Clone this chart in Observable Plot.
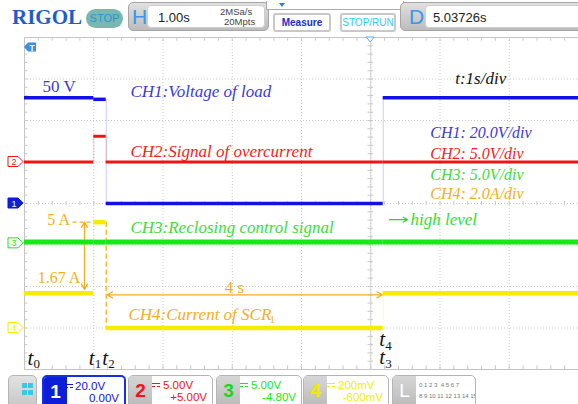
<!DOCTYPE html>
<html><head><meta charset="utf-8">
<script src="https://cdn.jsdelivr.net/npm/d3@7"></script>
<script src="https://cdn.jsdelivr.net/npm/@observablehq/plot@0.6"></script>
<style>
body{margin:0;width:578px;height:404px;overflow:hidden;background:#fff;position:relative;font-family:"Liberation Sans",Arial,sans-serif}
.a{position:absolute;white-space:nowrap}
.pnl{position:absolute;top:2px;height:29px;background:linear-gradient(#e0e0e0,#bcbcbc);border:1px solid #a5a5a5;border-radius:5px;box-sizing:border-box}
.inr{position:absolute;top:5px;height:23px;background:#fff;border:1px solid #cfcfcf;border-radius:4px;box-sizing:border-box}
.btn{position:absolute;top:13px;height:19px;background:#fff;border:2px solid #c8c8c8;border-radius:3px;box-sizing:border-box;font-size:10px;line-height:15px;text-align:center}
.fb{position:absolute;top:375px;height:34px;border:1px solid #b5b5b5;border-radius:5px;box-sizing:border-box;background:#fff;overflow:hidden}
.fl{position:absolute;left:0;top:0;bottom:0;width:23px;background:linear-gradient(#d6d6d6,#b9b9b9);font:bold 19px "Liberation Sans";text-align:center;line-height:30px}
.sym{position:absolute;width:8px;height:2px;border-top:1.5px solid;border-bottom:1.5px dashed}
.v{position:absolute;font-size:11.5px;line-height:11px}
#chart{position:absolute;left:0;top:36px}
</style></head><body>
<div id="hdr">
  <div class="a" style="left:12px;top:5px;font:bold 21px 'Liberation Serif';color:#1e5ccc">RIGOL</div>
  <div class="a" style="left:86px;top:9px;width:37px;height:19px;border-radius:10px;background:#7ab7b1;color:#1f98dc;font-size:11px;line-height:19px;text-align:center">STOP</div>
  <div class="pnl" style="left:128px;width:141px"></div>
  <div class="a" style="left:132px;top:5px;font-size:21px;color:#3a97ea">H</div>
  <div class="inr" style="left:147px;width:118px"></div>
  <div class="a" style="left:158px;top:10px;font-size:13px;color:#222">1.00s</div>
  <div class="a" style="left:220px;top:6px;font-size:9.5px;color:#444">2MSa/s</div>
  <div class="a" style="left:224px;top:16px;font-size:9.5px;color:#444">20Mpts</div>
  <div class="a" style="left:266px;top:1px;width:138px;height:9px;border:1px solid #aaa;border-top:none;box-sizing:border-box;background:#fff"></div>
  <div class="a" style="left:279px;top:3px;width:0;height:0;border-left:3px solid transparent;border-right:3px solid transparent;border-top:4px solid #2a7ee0"></div>
  <div class="btn" style="left:273px;width:58px;color:#1a2fc8;font-weight:bold">Measure</div>
  <div class="btn" style="left:340px;width:56px;color:#2ccdf0">STOP/RUN</div>
  <div class="pnl" style="left:400px;width:185px"></div>
  <div class="a" style="left:409px;top:5px;font-size:21px;color:#3a97ea">D</div>
  <div class="inr" style="left:425px;width:160px"></div>
  <div class="a" style="left:433px;top:10px;font-size:13px;color:#222">5.03726s</div>
</div>
<div id="chart"></div>
<div id="ftr"></div>
<script>
const edges = [0, 1.0, 1.18, 5.18, 8];          // s (1 s/div): t0, t1, t2, t3(=t4), right edge
const ch1Volts = [51, 50.2, 0, 51];              // CH1 voltage of load (V)
const ch2Volts = [0, 3.1, 0, 0];                 // CH2 over-current signal (V)
const ch3Volts = [0.15, 0.15, 0.15, 0.15];       // CH3 reclosing control (V)
const ch4Amps  = [1.67, 5.1, 0, 1.67];           // CH4 SCR1 current (A)
const unitsPerDiv = [20, 5, 5, 2];               // V/div, V/div, V/div, A/div
const footerScale = ["20.0V", "5.00V", "5.00V", "200mV"];
const footerOffset = ["0.00V", "+5.00V", "-4.80V", "-600mV"];
const offsetVolts = [0, 5, -4.8, -0.6];
const footerVoltsPerDiv = [20, 5, 5, 0.2];
const chLabels = ["CH1:Voltage of load", "CH2:Signal of overcurrent", "CH3:Reclosing control signal", "CH4:Current of SCR"];
const scaleLabels = ["CH1: 20.0V/div", "CH2: 5.0V/div", "CH3: 5.0V/div", "CH4: 2.0A/div"];
const timeLabel = "t:1s/div";
const levelLabels = ["50 V", "5 A", "1.67 A", "4 s", "high level"];
const tNames = ["0", "1", "2", "3", "4"];

// ---- styles ----
const serif = "'Liberation Serif','Times New Roman',serif";
const traceColors = ["#1212e8", "#f01414", "#14ea14", "#f6ec00"];
const traceWidths = [3.5, 3, 5, 4.5];
const textColors = ["#3b3bd4", "#f41c1c", "#3ddc3d", "#f5ae22"];
const ORANGE = "#f5ae22";

const series = [ch1Volts, ch2Volts, ch3Volts, ch4Amps];
const offsetDiv = offsetVolts.map((o, i) => o / footerVoltsPerDiv[i]);
const toDiv = (c, v) => v / unitsPerDiv[c] + offsetDiv[c];

const segs = [], edgesV = [];
series.forEach((vals, c) => {
  vals.forEach((v, i) => segs.push({c, x1: edges[i], x2: edges[i + 1], y: toDiv(c, v)}));
  for (let i = 1; i < vals.length; i++)
    if (vals[i] !== vals[i - 1]) edgesV.push({c, x: edges[i], y1: toDiv(c, vals[i - 1]), y2: toDiv(c, vals[i])});
});

const majorX = d3.range(0, 9), majorY = d3.range(-4, 5);
const minorX = d3.range(0, 8.001, 0.2), minorY = d3.range(-4, 4.001, 0.2);
const grid = "#c9c9c9";

const txt = (t, x, y, o = {}) => Plot.text([t], {x, y, text: d => d, textAnchor: "start", fontFamily: serif, fontSize: 17, fontStyle: "italic", ...o});
const y4hi = toDiv(3, ch4Amps[1]), y4lo = toDiv(3, ch4Amps[0]), y4zero = toDiv(3, 0);
const arrowY = -2.2;
const ch4LabelX = 1.50, ch4LabelY = -2.67;

const marks = [
  Plot.ruleX(majorX, {stroke: grid, strokeDasharray: "1,2"}),
  Plot.ruleY(majorY, {stroke: grid, strokeDasharray: "1,2"}),
  Plot.frame({stroke: "#c4c4c4"}),
  Plot.ruleX(minorX, {x: d => d, y1: 4, y2: 3.91, stroke: grid}),
  Plot.ruleX(minorX, {x: d => d, y1: -4, y2: -3.91, stroke: grid}),
  Plot.ruleX(minorX, {x: d => d, y1: -0.05, y2: 0.05, stroke: grid}),
  Plot.ruleY(minorY, {y: d => d, x1: 0, x2: 0.05, stroke: grid}),
  Plot.ruleY(minorY, {y: d => d, x1: 4.96, x2: 5.04, stroke: grid}),
  Plot.ruleX([5], {stroke: grid, strokeOpacity: 0.8}),
  // orange annotation guides
  Plot.ruleX([edges[2]], {y1: y4hi, y2: y4zero, stroke: ORANGE, strokeWidth: 1.3, strokeDasharray: "5,3"}),
  Plot.ruleY([y4hi], {x1: 0.7, x2: edges[1], stroke: ORANGE, strokeWidth: 1.2, strokeDasharray: "4,3"}),
  Plot.arrow([0], {x1: 0.866, x2: 0.866, y1: (y4hi + y4lo) / 2, y2: y4hi, stroke: ORANGE, strokeWidth: 1.3, headLength: 7, insetEnd: 0}),
  Plot.arrow([0], {x1: 0.866, x2: 0.866, y1: (y4hi + y4lo) / 2, y2: y4lo, stroke: ORANGE, strokeWidth: 1.3, headLength: 7, insetEnd: 4}),
  Plot.arrow([0], {x1: (edges[2] + edges[3]) / 2, x2: edges[2], y1: arrowY, y2: arrowY, stroke: ORANGE, strokeWidth: 1.3, headLength: 7, insetEnd: 1}),
  Plot.arrow([0], {x1: (edges[2] + edges[3]) / 2, x2: edges[3], y1: arrowY, y2: arrowY, stroke: ORANGE, strokeWidth: 1.3, headLength: 7, insetEnd: 1}),
  Plot.arrow([0], {x1: 5.27, x2: 5.53, y1: -0.39, y2: -0.39, stroke: "#22dd22", strokeWidth: 1.2, headLength: 6}),
  // traces
  Plot.ruleX(edgesV, {x: "x", y1: "y1", y2: "y2", stroke: d => traceColors[d.c], strokeOpacity: 0.22, strokeWidth: 1}),
  Plot.ruleY(segs, {y: "y", x1: "x1", x2: "x2", stroke: d => traceColors[d.c], strokeWidth: d => traceWidths[d.c]}),
  // labels
  txt(chLabels[0], 1.53, 2.69, {fill: textColors[0]}),
  txt(chLabels[1], 1.53, 1.25, {fill: textColors[1]}),
  txt(chLabels[2], 1.53, -0.58, {fill: textColors[2]}),
  txt(chLabels[3], ch4LabelX, ch4LabelY, {fill: textColors[3]}),
  txt(timeLabel, 6.22, 3.01, {fill: "#111", fontSize: 17}),
  ...scaleLabels.map((s, i) => txt(s, 5.86, [1.69, 1.2, 0.7, 0.22][i], {fill: textColors[i], fontSize: 16})),
  txt(levelLabels[0], 0.26, 2.82, {fill: textColors[0], fontStyle: "normal", fontSize: 17}),
  txt(levelLabels[1], 0.33, y4hi + 0.05, {fill: ORANGE, fontStyle: "normal", fontSize: 16}),
  txt(levelLabels[2], 0.19, -1.8, {fill: ORANGE, fontStyle: "normal", fontSize: 16}),
  txt(levelLabels[3], 3.03, -2.02, {fill: ORANGE, fontStyle: "normal", fontSize: 17, textAnchor: "middle"}),
  txt(levelLabels[4], 5.574, -0.39, {fill: "#33dd33", fontSize: 17}),
  // time markers t0..t4
  ...[[0, 3, -3.9], [1, -5, -3.9], [2, -4, -3.9], [3, -4, -3.87], [3, -4, -3.43]].map(([e, dx, y]) =>
    txt("t", edges[e], y, {dx, lineAnchor: "bottom", fill: "#111", fontSize: 21})),
  ...[[0, 9, -3.975], [1, 1, -3.975], [2, 2, -3.975], [3, 2, -3.96], [3, 2, -3.525]].map(([e, dx, y], k) =>
    txt(tNames[k], edges[e], y, {dx, lineAnchor: "bottom", fill: "#111", fontSize: 13, fontStyle: "normal"})),
];

const plot = Plot.plot({
  width: 578, height: 336, marginLeft: 24, marginRight: 0, marginTop: 1, marginBottom: 3,
  x: {domain: [0, 8], axis: null}, y: {domain: [-4, 4], axis: null},
  style: {background: "transparent", overflow: "visible"},
  marks
});
document.getElementById("chart").appendChild(plot);

const xs = plot.scale("x"), ys = plot.scale("y");
const svg = d3.select(plot);

// channel markers on the left edge
const g = svg.append("g");
offsetDiv.forEach((od, c) => {
  const y = ys.apply(od), x0 = 8, x1 = 23;
  const filled = c === 0;
  g.append("path").attr("d", `M${x0},${y - 5}H${x1 - 5}L${x1},${y}L${x1 - 5},${y + 5}H${x0}Z`)
    .attr("fill", filled ? "#0b24d0" : "#fff").attr("stroke", traceColors[c]).attr("stroke-width", 1);
  g.append("text").attr("x", 14).attr("y", y + 3.5).attr("text-anchor", "middle")
    .attr("font-size", 9).attr("font-family", "Liberation Sans")
    .attr("fill", filled ? "#fff" : traceColors[c]).text(c + 1);
});
// trigger level flag "T" and trigger position marker
{
  const x = xs.apply(0), y = ys.apply(4) + 10;
  g.append("path").attr("d", `M${x},${y}L${x + 4},${y - 4.5}H${x + 12}V${y + 4.5}H${x + 4}Z`).attr("fill", "#3a8ee6");
  g.append("text").attr("x", x + 8).attr("y", y + 3.5).attr("text-anchor", "middle").attr("font-size", 9)
    .attr("font-weight", "bold").attr("font-family", "Liberation Sans").attr("fill", "#fff").text("T");
  const xt = xs.apply(5), yt = ys.apply(4);
  g.append("path").attr("d", `M${xt - 4},${yt}H${xt + 4}L${xt},${yt + 5}Z`).attr("fill", "#fff").attr("stroke", "#58a8ea");
}
// subscript of SCR1
{
  const node = svg.selectAll("text").filter(function () { return this.textContent === chLabels[3]; }).node();
  const w = node ? node.getComputedTextLength() : 140;
  svg.append("text").attr("x", xs.apply(ch4LabelX) + w + 1.5).attr("y", ys.apply(ch4LabelY) + 9)
    .attr("font-family", serif).attr("font-size", 11).attr("fill", textColors[3]).text("1");
}

// footer
const ftr = document.getElementById("ftr");
const boxes = [[42, 84], [128, 85], [216, 86], [303, 86]];
const numColors = ["#fff", "#f01414", "#18d818", "#f0ea00"];
let html = `<div class="fb" style="left:8px;width:29px;background:linear-gradient(#e2e2e2,#c6c6c6)">
  <div class="a" style="left:13px;top:7px;width:5px;height:5px;background:#3cc8e4"></div>
  <div class="a" style="left:19px;top:7px;width:5px;height:5px;background:#3cc8e4"></div>
  <div class="a" style="left:13px;top:14px;width:5px;height:5px;background:#3cc8e4"></div>
  <div class="a" style="left:19px;top:14px;width:5px;height:5px;background:#3cc8e4"></div></div>`;
boxes.forEach(([l, w], c) => {
  const col = c === 3 ? "#f2ee00" : traceColors[c];
  html += `<div class="fb" style="left:${l}px;width:${w}px;${c === 0 ? "border:2px solid #1430e0;" : ""}">
    <div class="fl" style="color:${numColors[c]};${c === 0 ? "background:#0d1ed8;" : ""}">${c + 1}</div>
    <div class="sym" style="left:${c === 0 ? 21 : 23}px;top:7px;color:${col}"></div>
    <div class="v" style="left:${c === 0 ? 31 : 34}px;top:4px;color:${col}">${footerScale[c]}</div>
    <div class="v" style="right:5px;top:16px;color:${col}">${footerOffset[c]}</div></div>`;
});
html += `<div class="fb" style="left:392px;width:84px">
  <div class="fl" style="color:#fff;font-weight:normal">L</div>
  <div class="a" style="left:26px;top:6px;font-size:6px;color:#777">0 1 2 3 &nbsp;4 5 6 7</div>
  <div class="a" style="left:26px;top:17px;font-size:6px;color:#777">8 9 10 11 12 13 14 15</div></div>`;
ftr.innerHTML = html;
</script>
</body></html>
